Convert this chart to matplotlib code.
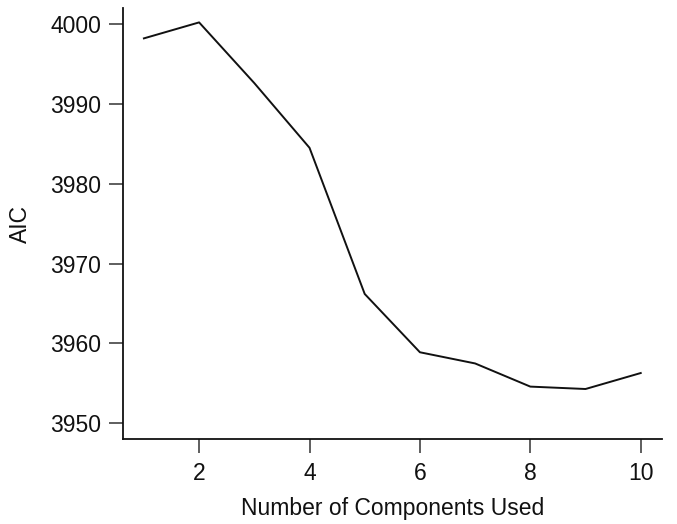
import matplotlib
matplotlib.use("Agg")
import matplotlib.pyplot as plt

components = [1, 2, 3, 4, 5, 6, 7, 8, 9, 10]
aic = [3998.2, 4000.2, 3992.6, 3984.5, 3966.2, 3958.9, 3957.5, 3954.6, 3954.3, 3956.3]
xticks = [2, 4, 6, 8, 10]
yticks = [3950, 3960, 3970, 3980, 3990, 4000]

plt.rcParams['font.family'] = ['Liberation Sans', 'DejaVu Sans']

fig = plt.figure(figsize=(6.77, 5.24), dpi=100)
ax = fig.add_axes([0.1824, 0.1616, 0.7950, 0.8231])
ax.plot(components, aic, color='#111111', lw=1.4)
ax.set_xlim(0.63, 10.38)
ax.set_ylim(3948.0, 4002.0)
ax.set_xticks(xticks)
ax.set_yticks(yticks)
for s in ['top', 'right']:
    ax.spines[s].set_visible(False)
for s in ['left', 'bottom']:
    ax.spines[s].set_linewidth(1.3)
    ax.spines[s].set_color('#111111')
ax.tick_params(axis='both', direction='out', length=10, width=1.1, color='#333333',
               labelsize=16.5, pad=6, labelcolor='#111111')
ax.set_xlabel('Number of Components Used', fontsize=16.5, color='#111111', labelpad=9)
ax.set_ylabel('AIC', fontsize=16.5, color='#111111', labelpad=13)
fig.savefig('out.png', dpi=100)
